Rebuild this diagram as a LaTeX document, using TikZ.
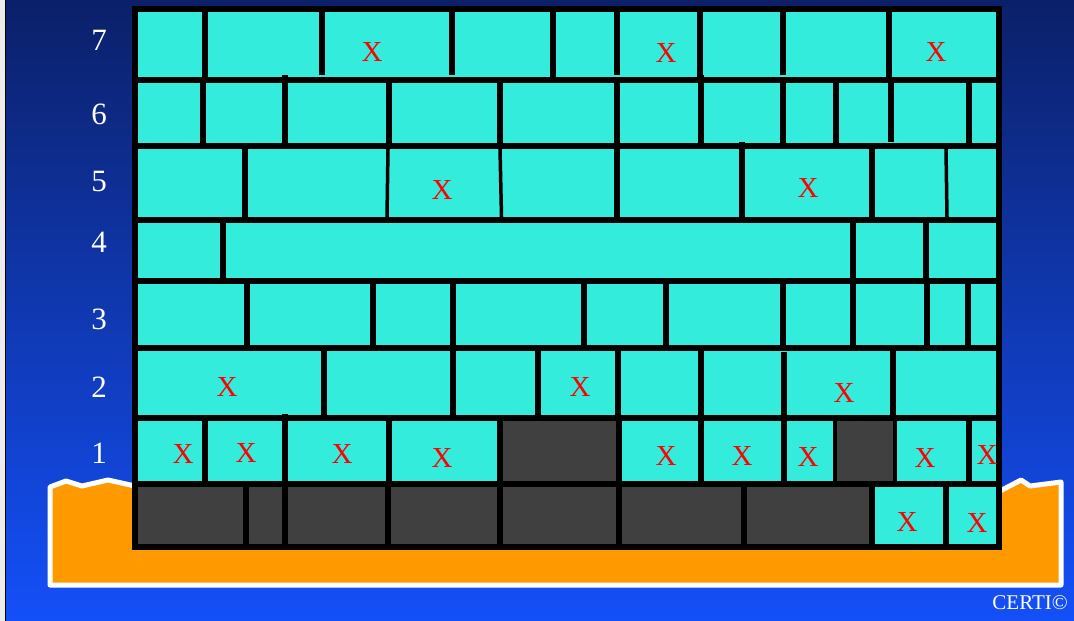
\documentclass[tikz,border=0pt]{standalone}
\usepackage{fontspec}
\setmainfont{Liberation Serif}
\usepackage{tikz}
\definecolor{skytop}{RGB}{11,32,105}
\definecolor{skybot}{RGB}{20,80,248}
\definecolor{brick}{RGB}{52,236,220}
\definecolor{deadbrick}{RGB}{64,64,64}
\definecolor{ground}{RGB}{255,153,0}
\definecolor{failred}{RGB}{255,0,0}

\begin{document}
\begin{tikzpicture}[x=1pt, y=-1pt,
  joint/.style={line width=5.5pt, black},
  thinjoint/.style={line width=3.5pt, black},
  rowlbl/.style={font=\fontsize{31}{31}\selectfont, text=white, inner sep=0},
  fail/.style={font=\fontsize{29}{29}\selectfont, text=failred, inner sep=0},
]
\useasboundingbox (0,0) rectangle (1074,621);
% ---- fondo
\fill[gray!15] (0,0) rectangle (6,621);
\shade[top color=skytop, bottom color=skybot] (6,0) rectangle (1074,621);
\draw[black, line width=1.5pt] (5.5,0) -- (5.5,621);
% ---- terreno
\draw[white, line width=5pt, fill=ground, line join=round]
  (50,487) -- (66,481) -- (82,486) -- (108,480) -- (135,486) -- (1002,490)
  -- (1021,480) -- (1030,486) -- (1061,482) -- (1061,585) -- (50,585) -- cycle;
% ---- muro
\fill[brick] (135,9) rectangle (999,547);
\fill[deadbrick] (500,418) rectangle (619,484);
\fill[deadbrick] (835,418) rectangle (895,484);
\fill[deadbrick] (135,484) rectangle (872,547);
\foreach \y in {80,146,220,281,348,418,484}
  \draw[joint] (135,\y) -- (999,\y);
% juntas verticales, fila por fila
\foreach \top/\bot/\xs in {
    9/80/{205,553,700,889},
    9/75/{322,452,617,783},
    80/146/{203,389,500,617,783,836,969},
    75/143/{285,701},
    80/142/{891},
    146/220/{245,617,872},
    142/220/{742},
    220/281/{223,853,926},
    281/348/{247,373,453,584,666,783,853,927,968},
    348/418/{324,453,538,618,701,893},
    352/418/{784},
    418/484/{205,389,500,701,784,969},
    414/547/{285},
    418/550/{619},
    484/547/{246,388,500,744,872,946}} {
  \foreach \x in \xs
    \draw[joint] (\x,\top) -- (\x,\bot);
}
\draw[thinjoint] (388,149) -- (387,217);
\draw[thinjoint] (500,149) -- (501.5,217);
\draw[thinjoint] (946,149) -- (947,217);
\draw[thinjoint] (835,418) -- (835,484);
\draw[thinjoint] (895,418) -- (895,484);
\draw[joint] (135,9) rectangle (999,547);
% ---- niveles
\foreach \n/\y in {7/40,6/114,5/181,4/242,3/319,2/387,1/453}
  \node[rowlbl] (row\n) at (99,\y) {\n};
% ---- ladrillos marcados
\foreach \x/\y [count=\k] in {372/52, 666/53, 936/52, 442/190, 808/188,
    227/387, 580/387, 844/393,
    183/454, 246/453, 342/454, 442/458, 666/456, 742/456, 808/457, 925/458, 987/455,
    907/522, 977/523}
  \node[fail] (x\k) at (\x,\y) {X};
\node[font=\fontsize{21}{21}\selectfont, text=white, anchor=east, inner sep=0]
  (certi) at (1068,603) {CERTI©};
\end{tikzpicture}
\end{document}
